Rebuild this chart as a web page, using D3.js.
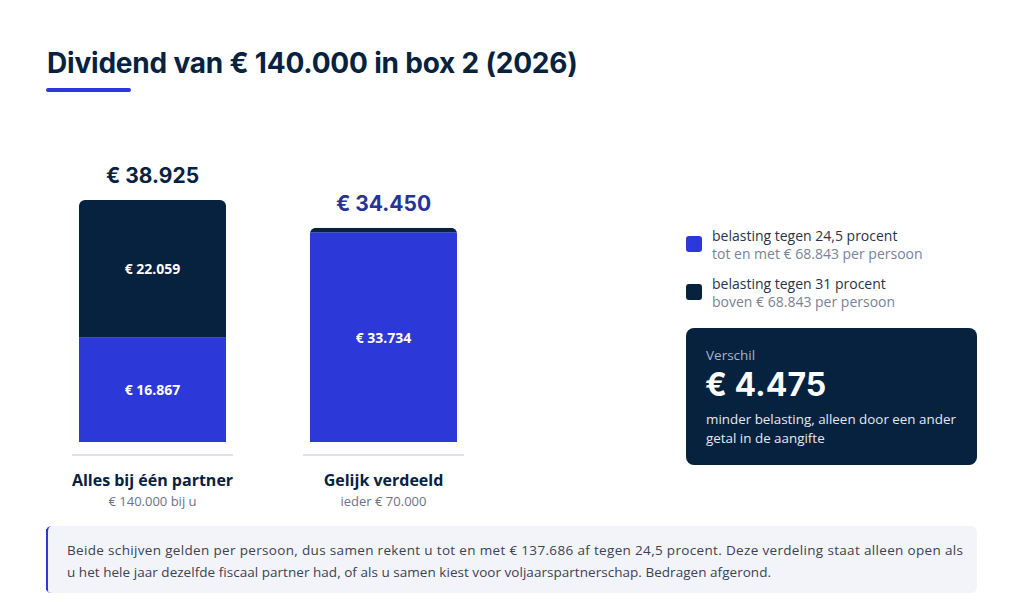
<!DOCTYPE html>
<html>
<head>
<meta charset="utf-8">
<script src="https://cdn.jsdelivr.net/npm/d3@7"></script>
<style>
  body { margin: 0; background: #ffffff; }
  svg { display: block; }
</style>
</head>
<body>
<div id="chart"></div>
<script>
// data
var categories = ["Alles bij één partner", "Gelijk verdeeld"];
var subLabels = ["€ 140.000 bij u", "ieder € 70.000"];
var lowBracket = [16867, 33734];   // 24,5 procent
var highBracket = [22059, 716];    // 31 procent
var totals = [38925, 34450];
var legendTitles = ["belasting tegen 24,5 procent", "belasting tegen 31 procent"];
var legendSubs = ["tot en met € 68.843 per persoon", "boven € 68.843 per persoon"];
var difference = 4475;

var width = 1024, height = 602;
var blue = "#2d38d9", navy = "#06223f";

var nl = d3.formatLocale({decimal: ",", thousands: ".", grouping: [3], currency: ["€ ", ""]});
var euro = nl.format("$,.0f");

var svg = d3.select("#chart").append("svg")
    .attr("width", width)
    .attr("height", height);

// title
svg.append("text")
    .attr("x", 47)
    .attr("y", 73)
    .style("font", "700 28px Inter, sans-serif")
    .style("letter-spacing", "-0.2px")
    .attr("fill", navy)
    .text("Dividend van € 140.000 in box 2 (2026)");

svg.append("rect")
    .attr("x", 46).attr("y", 88)
    .attr("width", 85).attr("height", 4)
    .attr("rx", 2)
    .attr("fill", blue);

// scales
var x = d3.scaleBand()
    .domain(categories)
    .range([79, 457])
    .paddingInner(84 / 231)
    .paddingOuter(0);

var y = d3.scaleLinear()
    .domain([0, d3.max(totals)])
    .range([442, 200]);

var rows = categories.map(function(c, i) {
    return {cat: c, sub: subLabels[i], low: lowBracket[i], high: highBracket[i], total: totals[i], i: i};
});

var stack = d3.stack().keys(["low", "high"]);
var series = stack(rows);
var colours = d3.scaleOrdinal().domain(["low", "high"]).range([blue, navy]);

// clip paths to round the top of each bar
var defs = svg.append("defs");
rows.forEach(function(d) {
    defs.append("clipPath")
        .attr("id", "clip" + d.i)
        .append("rect")
        .attr("x", x(d.cat))
        .attr("y", y(d.total))
        .attr("width", x.bandwidth())
        .attr("height", y(0) - y(d.total) + 8)
        .attr("rx", 6);
});

// baselines
svg.selectAll(".baseline")
    .data(rows)
    .enter()
    .append("line")
    .attr("x1", function(d) { return x(d.cat) - 7; })
    .attr("x2", function(d) { return x(d.cat) + x.bandwidth() + 7; })
    .attr("y1", 455).attr("y2", 455)
    .attr("stroke", "#dde1ec")
    .attr("stroke-width", 2);

var layer = svg.selectAll(".layer")
    .data(series)
    .enter()
    .append("g")
    .attr("fill", function(s) { return colours(s.key); });

layer.selectAll("rect")
    .data(function(s) { return s; })
    .enter()
    .append("rect")
    .attr("clip-path", function(d) { return "url(#clip" + d.data.i + ")"; })
    .attr("x", function(d) { return x(d.data.cat); })
    .attr("y", function(d) { return y(d[1]); })
    .attr("width", x.bandwidth())
    .attr("height", function(d) { return y(d[0]) - y(d[1]); });

// segment labels
series.forEach(function(s) {
    svg.selectAll(".seg-" + s.key)
        .data(s.filter(function(d) { return y(d[0]) - y(d[1]) > 30; }))
        .enter()
        .append("text")
        .attr("x", function(d) { return x(d.data.cat) + x.bandwidth() / 2; })
        .attr("y", function(d) { return (y(d[0]) + y(d[1])) / 2 + 1; })
        .attr("dy", "0.35em")
        .attr("text-anchor", "middle")
        .attr("fill", "#ffffff")
        .style("font", "700 14px 'Open Sans', sans-serif")
        .text(function(d) { return euro(d[1] - d[0]); });
});

// totals
svg.selectAll(".total")
    .data(rows)
    .enter()
    .append("text")
    .attr("x", function(d) { return x(d.cat) + x.bandwidth() / 2; })
    .attr("y", function(d) { return y(d.total) - 17; })
    .attr("text-anchor", "middle")
    .attr("fill", function(d) { return d.i === 0 ? navy : "#25339a"; })
    .style("font", "700 21px Inter, sans-serif")
    .text(function(d) { return euro(d.total); });

// category labels
svg.selectAll(".cat")
    .data(rows)
    .enter()
    .append("text")
    .attr("x", function(d) { return x(d.cat) + x.bandwidth() / 2; })
    .attr("y", 486)
    .attr("text-anchor", "middle")
    .attr("fill", navy)
    .style("font", "700 16px 'Open Sans', sans-serif")
    .text(function(d) { return d.cat; });

svg.selectAll(".sub")
    .data(rows)
    .enter()
    .append("text")
    .attr("x", function(d) { return x(d.cat) + x.bandwidth() / 2; })
    .attr("y", 506)
    .attr("text-anchor", "middle")
    .attr("fill", "#6b7384")
    .style("font", "400 13px 'Open Sans', sans-serif")
    .text(function(d) { return d.sub; });

// legend
var legend = svg.selectAll(".legend")
    .data(["low", "high"])
    .enter()
    .append("g")
    .attr("transform", function(d, i) { return "translate(686," + (236 + i * 48) + ")"; });

legend.append("rect")
    .attr("width", 16).attr("height", 16)
    .attr("rx", 3)
    .attr("fill", function(d) { return colours(d); });

legend.append("text")
    .attr("x", 26).attr("y", 5)
    .attr("fill", "#2a3345")
    .style("font", "400 14px 'Open Sans', sans-serif")
    .text(function(d, i) { return legendTitles[i]; });

legend.append("text")
    .attr("x", 26).attr("y", 23)
    .attr("fill", "#7a8296")
    .style("font", "400 14px 'Open Sans', sans-serif")
    .text(function(d, i) { return legendSubs[i]; });

// difference box
var box = svg.append("g").attr("transform", "translate(686,328)");
box.append("rect")
    .attr("width", 291).attr("height", 137)
    .attr("rx", 8)
    .attr("fill", navy);
box.append("text")
    .attr("x", 20).attr("y", 32)
    .attr("fill", "#aab4cc")
    .style("font", "400 13.5px 'Open Sans', sans-serif")
    .text("Verschil");
box.append("text")
    .attr("x", 19).attr("y", 68)
    .attr("fill", "#ffffff")
    .style("font", "700 32px Inter, sans-serif")
    .text(euro(difference));
box.append("text")
    .attr("x", 20).attr("y", 96)
    .attr("fill", "#e4e8f2")
    .style("font", "400 13.4px 'Open Sans', sans-serif")
    .text("minder belasting, alleen door een ander");
box.append("text")
    .attr("x", 20).attr("y", 115)
    .attr("fill", "#e4e8f2")
    .style("font", "400 13.4px 'Open Sans', sans-serif")
    .text("getal in de aangifte");

// footnote
var note = svg.append("g").attr("transform", "translate(46,526)");
note.append("rect")
    .attr("width", 931).attr("height", 67)
    .attr("rx", 6)
    .attr("fill", "#f3f4fa");
note.append("path")
    .attr("d", "M6,0 Q0,0 0,6 L0,61 Q0,67 6,67 L3,67 Q2,67 2,61 L2,6 Q2,0 6,0 Z")
    .attr("fill", blue);
note.append("rect")
    .attr("x", 0).attr("y", 3)
    .attr("width", 2).attr("height", 61)
    .attr("fill", blue);
note.append("text")
    .attr("x", 21).attr("y", 29)
    .attr("fill", "#3b4252")
    .style("font", "400 13.5px 'Open Sans', sans-serif")
    .attr("textLength", 896)
    .text("Beide schijven gelden per persoon, dus samen rekent u tot en met € 137.686 af tegen 24,5 procent. Deze verdeling staat alleen open als");
note.append("text")
    .attr("x", 21).attr("y", 51)
    .attr("fill", "#3b4252")
    .style("font", "400 13.5px 'Open Sans', sans-serif")
    .attr("textLength", 704)
    .text("u het hele jaar dezelfde fiscaal partner had, of als u samen kiest voor voljaarspartnerschap. Bedragen afgerond.");
</script>
</body>
</html>
